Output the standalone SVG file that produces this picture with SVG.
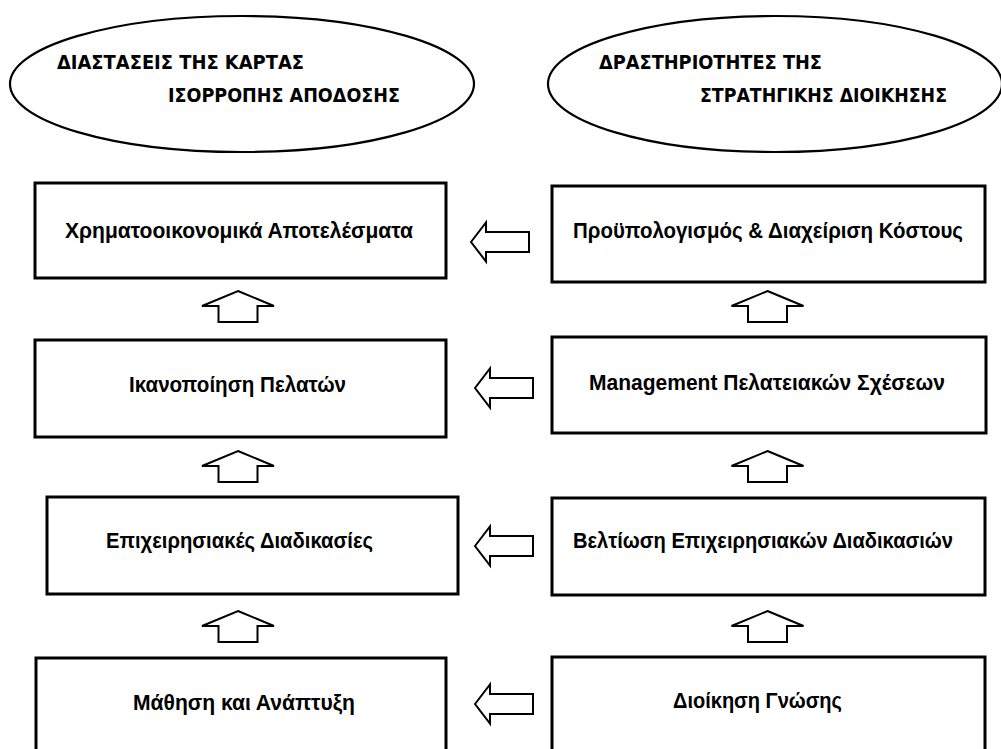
<svg xmlns="http://www.w3.org/2000/svg" xmlns:xlink="http://www.w3.org/1999/xlink" width="1001" height="749" viewBox="0 0 1001 749">
  <style>
    .box { fill: #fff; stroke: #000; stroke-width: 3; }
    .oval { fill: #fff; stroke: #000; stroke-width: 2.2; }
    .arrow { fill: #fff; stroke: #000; stroke-width: 2; stroke-linejoin: miter; }
    .head { font-family: "DejaVu Sans Condensed", "DejaVu Sans", sans-serif; font-weight: bold; font-size: 20px; fill: #000; }
    .label { font-family: "Liberation Sans", Arial, sans-serif; font-weight: bold; font-size: 22px; fill: #000; text-anchor: middle; }
  </style>
  <defs>
    <!-- hollow block arrow pointing up, tip at origin -->
    <path id="up" d="M0,0 L36,15 L19.5,15 L19.5,31 L-19.5,31 L-19.5,15 L-36,15 Z"/>
    <!-- hollow block arrow pointing left, tip at origin -->
    <path id="left" d="M0,0 L15,-19.5 L15,-10 L58,-10 L58,10 L15,10 L15,19.5 Z"/>
  </defs>
  <rect width="1001" height="749" fill="#fff"/>

  <!-- column headings -->
  <g id="heading-bsc">
    <ellipse class="oval" cx="242" cy="84" rx="232" ry="68"/>
    <text class="head" x="57" y="69" textLength="247" lengthAdjust="spacingAndGlyphs">ΔΙΑΣΤΑΣΕΙΣ ΤΗΣ ΚΑΡΤΑΣ</text>
    <text class="head" x="168" y="102" textLength="232" lengthAdjust="spacingAndGlyphs">ΙΣΟΡΡΟΠΗΣ ΑΠΟΔΟΣΗΣ</text>
  </g>
  <g id="heading-strategy">
    <ellipse class="oval" cx="775" cy="84" rx="227" ry="68"/>
    <text class="head" x="599" y="69" textLength="223" lengthAdjust="spacingAndGlyphs">ΔΡΑΣΤΗΡΙΟΤΗΤΕΣ ΤΗΣ</text>
    <text class="head" x="700" y="102" textLength="247" lengthAdjust="spacingAndGlyphs">ΣΤΡΑΤΗΓΙΚΗΣ ΔΙΟΙΚΗΣΗΣ</text>
  </g>

  <!-- left column: scorecard perspectives -->
  <g id="financial">
    <rect class="box" x="35" y="183" width="411" height="95"/>
    <text class="label" x="239" y="238" textLength="348" lengthAdjust="spacingAndGlyphs">Χρηματοοικονομικά Αποτελέσματα</text>
  </g>
  <g id="customers">
    <rect class="box" x="35" y="340" width="411" height="97"/>
    <text class="label" x="237.5" y="392" textLength="217" lengthAdjust="spacingAndGlyphs">Ικανοποίηση Πελατών</text>
  </g>
  <g id="processes">
    <rect class="box" x="47" y="497" width="411" height="97"/>
    <text class="label" x="239.5" y="548" textLength="267" lengthAdjust="spacingAndGlyphs">Επιχειρησιακές Διαδικασίες</text>
  </g>
  <g id="learning">
    <rect class="box" x="36" y="658" width="410" height="110"/>
    <text class="label" x="244" y="710" textLength="222" lengthAdjust="spacingAndGlyphs">Μάθηση και Ανάπτυξη</text>
  </g>

  <!-- right column: strategic management activities -->
  <g id="budgeting">
    <rect class="box" x="552" y="186" width="433" height="96"/>
    <text class="label" x="768" y="238" textLength="390" lengthAdjust="spacingAndGlyphs">Προϋπολογισμός &amp; Διαχείριση Κόστους</text>
  </g>
  <g id="crm">
    <rect class="box" x="552" y="337" width="434" height="96"/>
    <text class="label" x="767" y="390" textLength="356" lengthAdjust="spacingAndGlyphs">Management Πελατειακών Σχέσεων</text>
  </g>
  <g id="process-improvement">
    <rect class="box" x="552" y="498" width="433" height="97"/>
    <text class="label" x="763" y="548" textLength="380" lengthAdjust="spacingAndGlyphs">Βελτίωση Επιχειρησιακών Διαδικασιών</text>
  </g>
  <g id="knowledge">
    <rect class="box" x="552" y="657" width="433" height="110"/>
    <text class="label" x="757.5" y="708" textLength="169" lengthAdjust="spacingAndGlyphs">Διοίκηση Γνώσης</text>
  </g>

  <!-- connectors -->
  <g id="connectors">
    <use class="arrow" xlink:href="#up" x="238" y="291"/>
    <use class="arrow" xlink:href="#up" x="238" y="451"/>
    <use class="arrow" xlink:href="#up" x="238" y="611"/>
    <use class="arrow" xlink:href="#up" x="767.5" y="291"/>
    <use class="arrow" xlink:href="#up" x="767.5" y="451"/>
    <use class="arrow" xlink:href="#up" x="767.5" y="611"/>
    <use class="arrow" xlink:href="#left" x="471" y="242"/>
    <use class="arrow" xlink:href="#left" x="475" y="388"/>
    <use class="arrow" xlink:href="#left" x="475" y="546"/>
    <use class="arrow" xlink:href="#left" x="475" y="704"/>
  </g>
</svg>
